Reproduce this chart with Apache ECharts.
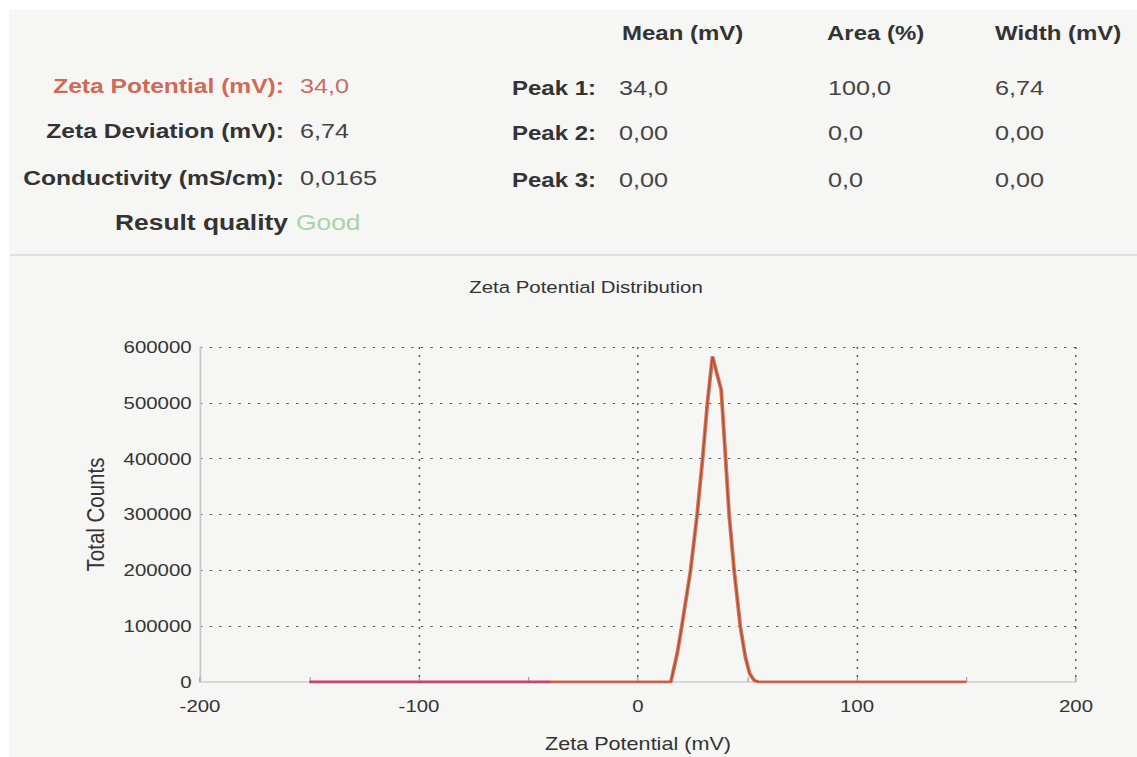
<!DOCTYPE html>
<html>
<head>
<meta charset="utf-8">
<script src="https://cdn.jsdelivr.net/npm/echarts@6/dist/echarts.min.js"></script>
<style>
  html, body { margin: 0; padding: 0; background: #ffffff; overflow: hidden; }
  #chart { height: 757px; transform-origin: 0 0; }
</style>
</head>
<body>
<div id="chart"></div>
<script>
// ---- Data ----
const zetaPotential = [-150, -40, 15, 18, 20, 24, 27, 29.5, 31.7, 34, 38, 40, 41.6, 43.9, 46.7, 49, 51, 53, 55, 150]; // mV
const totalCounts   = [0, 0, 0, 53000, 100000, 200000, 300000, 400000, 500000, 583000, 523000, 400000, 300000, 200000, 100000, 45000, 15000, 3000, 0, 0];
const xTicks = { min: -200, max: 200, interval: 100 };
const yTicks = { min: 0, max: 600000, interval: 100000 };

const summaryLabels = ['Zeta Potential (mV):', 'Zeta Deviation (mV):', 'Conductivity (mS/cm):'];
const summaryValues = ['34,0', '6,74', '0,0165'];
const qualityLabel = 'Result quality';
const qualityValue = 'Good';
const peakHeaders = ['Mean (mV)', 'Area (%)', 'Width (mV)'];
const peakLabels = ['Peak 1:', 'Peak 2:', 'Peak 3:'];
const peakMeans = ['34,0', '0,00', '0,00'];
const peakAreas = ['100,0', '0,0', '0,0'];
const peakWidths = ['6,74', '0,00', '0,00'];

const chartTitle = 'Zeta Potential Distribution';
const xName = 'Zeta Potential (mV)';
const yName = 'Total Counts';

// ---- Layout ----
const S = 1.2;               // horizontal stretch of the reference picture
const W = 1137 / S;
const FF = '"Liberation Sans", Arial, Helvetica, sans-serif';
const el = document.getElementById('chart');
el.style.width = W + 'px';
el.style.transform = 'scaleX(' + S + ')';

function txt(x, y, text, size, weight, color, align) {
  return {
    type: 'text', x: x / S, y: y, z: 10,
    style: {
      text: text, font: weight + ' ' + size + 'px ' + FF, fill: color,
      align: align, textAlign: align, verticalAlign: 'middle', textVerticalAlign: 'middle'
    }
  };
}

const dark = '#333333';
const valCol = '#444444';
const graphics = [
  { type: 'rect', z: -100, shape: { x: 9 / S, y: 10, width: W, height: 757 }, style: { fill: '#f6f6f5' } },
  { type: 'line', z: 5, shape: { x1: 10 / S, y1: 255, x2: W, y2: 255 }, style: { stroke: '#d6dada', lineWidth: 1.5 } }
];
const rowY = [86, 131, 178];
summaryLabels.forEach((t, i) => {
  graphics.push(txt(284, rowY[i], t, 20.5, 'bold', i === 0 ? '#cf6b55' : dark, 'right'));
  graphics.push(txt(300, rowY[i], summaryValues[i], 21, 'normal', i === 0 ? '#c46f68' : valCol, 'left'));
});
graphics.push(txt(288, 222, qualityLabel, 22, 'bold', dark, 'right'));
graphics.push(txt(296, 222, qualityValue, 22, 'normal', '#a9d3a9', 'left'));

const colX = [622, 827, 995];
peakHeaders.forEach((t, i) => graphics.push(txt(colX[i], 33, t, 20, 'bold', dark, 'left')));
const peakY = [88, 133, 180];
peakLabels.forEach((t, i) => {
  graphics.push(txt(596, peakY[i], t, 20, 'bold', dark, 'right'));
  graphics.push(txt(619, peakY[i], peakMeans[i], 21, 'normal', valCol, 'left'));
  graphics.push(txt(828, peakY[i], peakAreas[i], 21, 'normal', valCol, 'left'));
  graphics.push(txt(995, peakY[i], peakWidths[i], 21, 'normal', valCol, 'left'));
});
graphics.push(txt(586, 287, chartTitle, 17, 'normal', dark, 'center'));

const pairs = zetaPotential.map((x, i) => [x, totalCounts[i]]);
const pinkPairs = pairs.filter(p => p[0] <= -40);

const chart = echarts.init(el, null, { renderer: 'svg', width: W, height: 757 });
chart.setOption({
  animation: false,
  backgroundColor: 'transparent',
  graphic: { elements: graphics },
  grid: { left: 200 / S, right: (1137 - 1076) / S, top: 347, bottom: 75, containLabel: false },
  xAxis: {
    type: 'value', min: xTicks.min, max: xTicks.max, interval: xTicks.interval,
    name: xName, nameLocation: 'middle', nameGap: 53,
    nameTextStyle: { fontSize: 18, color: dark, fontFamily: FF },
    axisLine: { show: true, onZero: false, lineStyle: { color: '#cfcfcf', width: 1.5 } },
    axisTick: { show: true, inside: true, length: 5, lineStyle: { color: '#a0a0a0' } },
    minorTick: { show: true, splitNumber: 2, length: 5, lineStyle: { color: '#a0a0a0' } },
    axisLabel: { fontSize: 17, color: dark, margin: 16, fontFamily: FF },
    splitLine: { show: true, showMinLine: false, lineStyle: { type: [2, 6], color: '#555555', width: 1.2 } }
  },
  yAxis: {
    type: 'value', min: yTicks.min, max: yTicks.max, interval: yTicks.interval,
    name: yName, nameLocation: 'middle', nameGap: 76,
    nameTextStyle: { fontSize: 20.5, color: dark, fontFamily: FF },
    axisLine: { show: true, onZero: false, lineStyle: { color: '#c8c8c8', width: 1.5 } },
    axisTick: { show: false },
    axisLabel: { fontSize: 17, color: dark, margin: 7, fontFamily: FF, formatter: v => String(v) },
    splitLine: { show: true, showMinLine: false, lineStyle: { type: [2, 6], color: '#555555', width: 1.2 } }
  },
  series: [
    { type: 'line', data: pairs, showSymbol: false, silent: true, z: 2,
      lineStyle: { color: '#e0704f', width: 3.2 } },
    { type: 'line', data: pairs, showSymbol: false, silent: true, z: 3,
      lineStyle: { color: '#7a4a42', width: 1.0, opacity: 0.8 } },
    { type: 'line', data: pinkPairs, showSymbol: false, silent: true, z: 4,
      lineStyle: { color: '#c9407c', width: 2.6 } }
  ]
});
</script>
</body>
</html>
